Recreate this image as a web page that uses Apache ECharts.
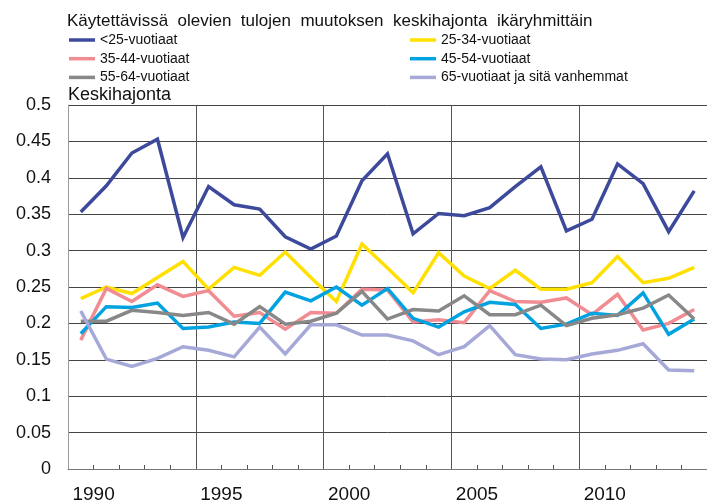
<!DOCTYPE html>
<html><head><meta charset="utf-8">
<script src="https://cdn.jsdelivr.net/npm/echarts@6/dist/echarts.min.js"></script>
<style>html,body{margin:0;padding:0;background:#fff}#c{width:707px;height:504px}</style>
</head><body><div id="c"></div>
<script>
const years = [1989,1990,1991,1992,1993,1994,1995,1996,1997,1998,1999,2000,2001,2002,2003,2004,2005,2006,2007,2008,2009,2010,2011,2012,2013];
const seriesNames = ['<25-vuotiaat','25-34-vuotiaat','35-44-vuotiaat','45-54-vuotiaat','55-64-vuotiaat','65-vuotiaat ja sitä vanhemmat'];
const under25 = [0.353,0.389,0.434,0.453,0.318,0.388,0.363,0.357,0.319,0.302,0.320,0.396,0.433,0.323,0.351,0.348,0.359,0.388,0.415,0.327,0.343,0.419,0.392,0.326,0.382];
const age25_34 = [0.234,0.250,0.241,0.263,0.285,0.247,0.277,0.266,0.298,0.263,0.230,0.309,0.276,0.242,0.297,0.265,0.248,0.273,0.247,0.247,0.256,0.292,0.256,0.262,0.277];
const age35_44 = [0.177,0.248,0.230,0.253,0.237,0.245,0.210,0.215,0.192,0.215,0.214,0.247,0.246,0.202,0.205,0.201,0.245,0.230,0.229,0.235,0.212,0.240,0.191,0.200,0.219];
const age45_54 = [0.186,0.223,0.222,0.228,0.193,0.195,0.202,0.200,0.243,0.231,0.250,0.225,0.248,0.207,0.195,0.216,0.229,0.226,0.193,0.199,0.214,0.211,0.242,0.185,0.206];
const age55_64 = [0.203,0.203,0.218,0.215,0.211,0.215,0.199,0.223,0.199,0.203,0.214,0.244,0.206,0.219,0.217,0.238,0.212,0.212,0.225,0.197,0.207,0.212,0.221,0.239,0.206];
const age65plus = [0.217,0.151,0.141,0.152,0.168,0.163,0.154,0.195,0.158,0.198,0.198,0.184,0.184,0.176,0.157,0.168,0.197,0.157,0.151,0.150,0.158,0.163,0.172,0.136,0.135];
const allValues = [under25, age25_34, age35_44, age45_54, age55_64, age65plus];
const colors = ['#3D4A9C','#FFE000','#F08C92','#00A2E0','#888888','#A6A9D8'];
const yTicks = {min:0, max:0.5, interval:0.05};
const FONT = 'Liberation Sans, Arial, sans-serif';

const chart = echarts.init(document.getElementById('c'));
const series = seriesNames.map((n,i)=>({
  name:n, type:'line', xAxisIndex:0, yAxisIndex:0,
  data: years.map((y,k)=>[y+0.5, allValues[i][k]]),
  showSymbol:false, symbol:'none',
  lineStyle:{color:colors[i], width:3.5, join:'miter'},
  itemStyle:{color:colors[i]},
  z: 3+i
}));
const legendCommon = {
  orient:'vertical', top:32, padding:0, icon:'rect', itemWidth:26, itemHeight:3.5, itemGap:2.7,
  textStyle:{fontFamily:FONT, fontSize:14, color:'#111', lineHeight:16}
};
chart.setOption({
  animation:false,
  color: colors,
  title:{text:'Käytettävissä  olevien  tulojen  muutoksen  keskihajonta  ikäryhmittäin', left:62, top:8,
    textStyle:{fontFamily:FONT, fontSize:17, fontWeight:'normal', color:'#111'}},
  legend:[
    Object.assign({left:69, data:[seriesNames[0],seriesNames[2],seriesNames[4]]}, legendCommon),
    Object.assign({left:410, data:[seriesNames[1],seriesNames[3],seriesNames[5]]}, legendCommon)
  ],
  grid:{left:68, right:-3, top:105, bottom:35, containLabel:false},
  xAxis:[{
    type:'value', min:1989, max:2014, interval:1,
    axisLine:{show:true, lineStyle:{color:'#777', width:1}},
    axisTick:{show:true, inside:true, length:4, lineStyle:{color:'#555'}},
    axisLabel:{fontFamily:FONT, fontSize:19, color:'#111', margin:16,
      formatter:v=> (Math.round(v)%5===0 ? String(Math.round(v)) : ''), showMinLabel:false, showMaxLabel:false},
    splitLine:{show:false}
  },{
    type:'value', min:1989, max:2014, interval:5, position:'bottom',
    axisLine:{show:false}, axisTick:{show:false}, axisLabel:{show:false},
    splitLine:{show:true, showMinLine:false, showMaxLine:false, lineStyle:{color:'#555', width:1}}
  }],
  yAxis:{
    type:'value', min:yTicks.min, max:yTicks.max, interval:yTicks.interval,
    name:'Keskihajonta', nameLocation:'end', nameGap:1,
    nameTextStyle:{fontFamily:FONT, fontSize:18, color:'#111', align:'left', verticalAlign:'bottom'},
    axisLine:{show:true, lineStyle:{color:'#999', width:1}},
    axisTick:{show:false},
    axisLabel:{fontFamily:FONT, fontSize:18, color:'#111', margin:17,
      formatter:v=> String(Math.round(v*100)/100)},
    splitLine:{show:true, lineStyle:{color:'#444', width:1}}
  },
  series: series
});
</script></body></html>
